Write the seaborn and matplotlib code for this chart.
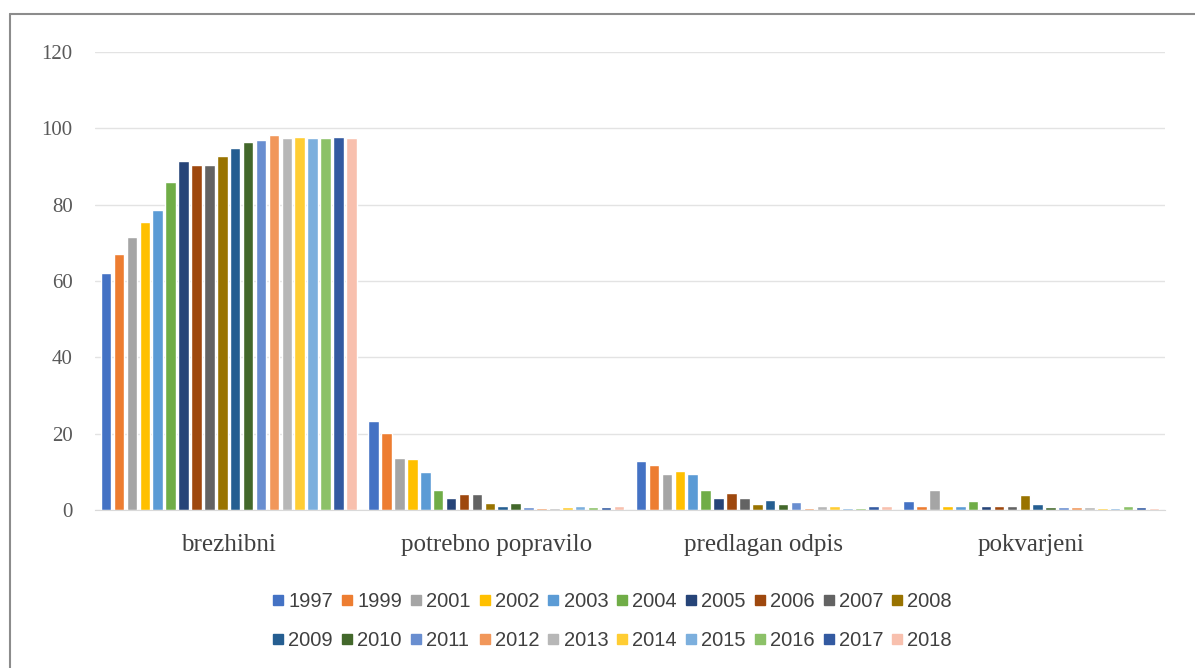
import pandas as pd
import seaborn as sns
import matplotlib.pyplot as plt
from matplotlib.lines import Line2D

# categories and years
categories = ["brezhibni", "potrebno popravilo", "predlagan odpis", "pokvarjeni"]
years = ["1997", "1999", "2001", "2002", "2003", "2004", "2005", "2006", "2007", "2008",
         "2009", "2010", "2011", "2012", "2013", "2014", "2015", "2016", "2017", "2018"]

# values per category, one per year
brezhibni = [62.2, 67.2, 71.4, 75.5, 78.6, 86.0, 91.5, 90.3, 90.3, 92.8,
             94.9, 96.5, 97.0, 98.2, 97.5, 97.8, 97.5, 97.5, 97.8, 97.5]
potrebno_popravilo = [23.3, 20.1, 13.5, 13.3, 9.9, 5.2, 3.1, 4.3, 4.3, 1.9,
                      1.0, 1.9, 0.7, 0.6, 0.6, 0.7, 1.0, 0.7, 0.7, 1.0]
predlagan_odpis = [12.8, 11.7, 9.4, 10.3, 9.5, 5.2, 3.1, 4.5, 3.1, 1.5,
                   2.7, 1.5, 2.0, 0.6, 1.0, 1.0, 0.6, 0.6, 1.1, 1.0]
pokvarjeni = [2.3, 1.1, 5.2, 1.1, 1.1, 2.3, 1.1, 1.1, 1.1, 4.0,
              1.5, 0.7, 0.7, 0.7, 0.7, 0.6, 0.6, 1.0, 0.7, 0.6]

colors = ["#4472C4", "#ED7D31", "#A5A5A5", "#FFC000", "#5B9BD5", "#70AD47",
          "#264478", "#9E480E", "#636363", "#997300", "#255E91", "#43682B",
          "#698ED0", "#F1975A", "#B7B7B7", "#FFCD33", "#7CAFDD", "#8CC168",
          "#335AA1", "#F8C0AE"]

rows = []
for cat, vals in zip(categories, [brezhibni, potrebno_popravilo, predlagan_odpis, pokvarjeni]):
    for y, v in zip(years, vals):
        rows.append({"kategorija": cat, "leto": y, "vrednost": v})
df = pd.DataFrame(rows)

sns.set_style("white")
plt.rcParams['font.family'] = ['Liberation Serif', 'DejaVu Serif']

fig = plt.figure(figsize=(11.95, 6.68), dpi=100)
ax = fig.add_axes([95 / 1195, 1 - 510 / 668, 1070 / 1195, 458 / 668])

sns.barplot(data=df, x="kategorija", y="vrednost", hue="leto", order=categories,
            hue_order=years, palette=colors, width=0.965, gap=0.18,
            saturation=1, legend=False, ax=ax)

ax.set_ylim(0, 120)
ax.set_yticks(range(0, 121, 20))
ax.set_xlim(-0.5, 3.5)
ax.yaxis.grid(True, color="#E3E3E3", linewidth=1)
ax.set_axisbelow(True)
for s in ["top", "right", "left"]:
    ax.spines[s].set_visible(False)
ax.spines["bottom"].set_color("#D9D9D9")
ax.tick_params(axis="y", length=0, pad=16, labelsize=15, labelcolor="#595959")
ax.tick_params(axis="x", length=0, pad=17, labelsize=18, labelcolor="#404040")
ax.set_xlabel("")
ax.set_ylabel("")

# legend in two rows of ten (matplotlib fills by column, so interleave)
order = []
for i in range(10):
    order += [i, i + 10]
handles = [Line2D([], [], marker="s", linestyle="", markersize=7,
                  markerfacecolor=colors[i], markeredgecolor=colors[i]) for i in order]
labels = [years[i] for i in order]
leg_font = {"family": ["Liberation Sans", "DejaVu Sans"], "size": 14.5}
fig.legend(handles, labels, loc="center", bbox_to_anchor=(612 / 1195, 1 - 621 / 668),
           ncol=10, frameon=False, prop=leg_font, handlelength=0.6,
           handletextpad=0.2, columnspacing=0.4, labelspacing=1.0,
           labelcolor="#404040")

# outer border (left and top only, as in the source)
fig.add_artist(Line2D([10 / 1195, 10 / 1195], [0, 1 - 14 / 668], transform=fig.transFigure,
                      color="#8C8C8C", linewidth=1.5))
fig.add_artist(Line2D([10 / 1195, 1], [1 - 14 / 668, 1 - 14 / 668], transform=fig.transFigure,
                      color="#8C8C8C", linewidth=1.5))

fig.savefig("out.png", dpi=100)
